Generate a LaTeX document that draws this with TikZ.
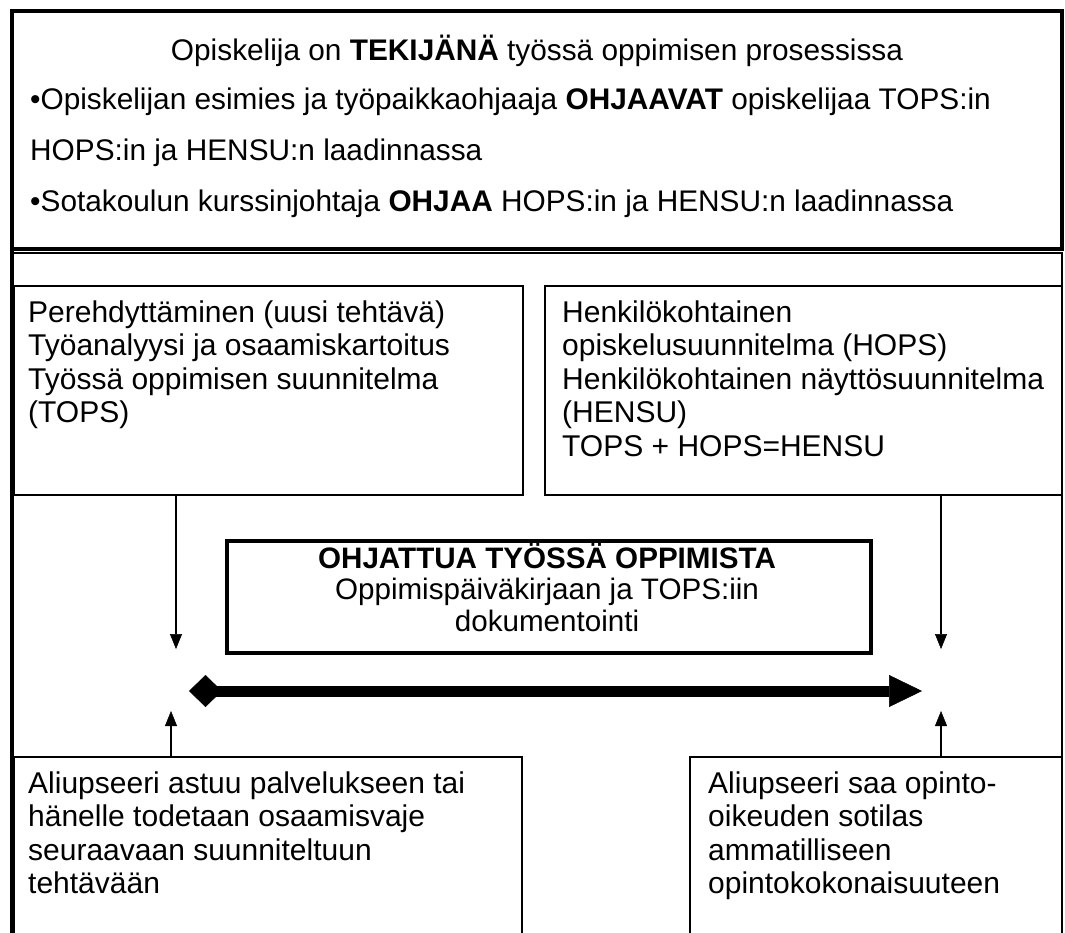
\documentclass[tikz,border=0pt]{standalone}
\usepackage{fontspec}
\setmainfont{Liberation Sans}
\usetikzlibrary{arrows.meta}
\begin{document}
\begin{tikzpicture}[x=1pt,y=-1pt,
  box/.style={draw=black, line width=1.5pt, anchor=north west, inner sep=0pt, outer sep=0pt},
  heavybox/.style={draw=black, line width=4pt, anchor=north west, inner sep=0pt, outer sep=0pt},
  txt/.style={anchor=base west, inner sep=0pt, align=left, font=\fontsize{30}{33.5}\selectfont},
  toptxt/.style={anchor=base west, inner sep=0pt, font=\fontsize{29.8}{33.5}\selectfont},
  midtxt/.style={anchor=base, inner sep=0pt, align=center, font=\fontsize{29.6}{31.8}\selectfont},
  thinarrow/.style={line width=1.4pt, -{Triangle[length=15pt,width=12pt,line width=0.5pt]}},
  bigarrow/.style={line width=11pt, {Diamond[length=33pt,width=32pt,line width=0.5pt]}-{Triangle[length=33pt,width=32pt,line width=0.5pt]}}
]
\useasboundingbox (0,0) rectangle (1065,932);
\fill[white] (0,0) rectangle (1065,932);
\clip (0,0) rectangle (1065,932);

% top box
\node[heavybox, minimum width=1050pt, minimum height=238pt] (top) at (12,11) {};
\node[toptxt, anchor=base] (t1) at (537,60) {Opiskelija on \textbf{TEKIJÄNÄ} työssä oppimisen prosessissa};
\node[toptxt] (t2) at (30,109) {•Opiskelijan esimies ja työpaikkaohjaaja \textbf{OHJAAVAT} opiskelijaa TOPS:in};
\node[toptxt] (t3) at (30,160) {HOPS:in ja HENSU:n laadinnassa};
\node[toptxt] (t4) at (30,211) {•Sotakoulun kurssinjohtaja \textbf{OHJAA} HOPS:in ja HENSU:n laadinnassa};

% lower frame
\coordinate (fl) at (12,249);
\coordinate (fb) at (12,940);
\coordinate (ft) at (12,253);
\coordinate (fr) at (1062,253);
\coordinate (frb) at (1062,940);
\draw[line width=4pt] (fl) -- (fb);
\draw[line width=1.5pt] (ft) -- (fr) -- (frb);

% middle-row boxes (text nodes anchored at the baseline of their last line)
\node[box, minimum width=509pt, minimum height=209pt] (perehd) at (14,286) {};
\node[txt] (perehdtxt) at (28,422.5) {Perehdyttäminen (uusi tehtävä)\\Työanalyysi ja osaamiskartoitus\\Työssä oppimisen suunnitelma\\(TOPS)};
\node[box, minimum width=517pt, minimum height=209pt] (hops) at (545,286) {};
\node[txt] (hopstxt) at (562,456) {Henkilökohtainen\\opiskelusuunnitelma (HOPS)\\Henkilökohtainen näyttösuunnitelma\\(HENSU)\\TOPS + HOPS=HENSU};

% central box
\node[heavybox, minimum width=644pt, minimum height=112pt] (ohj) at (227,541) {};
\node[midtxt] (ohjtxt) at (547,631.6) {\textbf{OHJATTUA TYÖSSÄ OPPIMISTA}\\Oppimispäiväkirjaan ja TOPS:iin\\dokumentointi};

% bottom boxes
\node[box, minimum width=508pt, minimum height=200pt] (aliu) at (14,757) {};
\node[txt] (aliutxt) at (28,893.5) {Aliupseeri astuu palvelukseen tai\\hänelle todetaan osaamisvaje\\seuraavaan suunniteltuun\\tehtävään};
\node[box, minimum width=372pt, minimum height=200pt] (saa) at (690,757) {};
\node[txt] (saatxt) at (708,893.5) {Aliupseeri saa opinto-\\oikeuden sotilas\\ammatilliseen\\opintokokonaisuuteen};

% arrows
\coordinate (dl) at (176,649);
\coordinate (dr) at (941,649);
\coordinate (ul) at (171,711);
\coordinate (ur) at (941,711);
\coordinate (al) at (189,691);
\coordinate (ar) at (922,691);
\draw[thinarrow] (perehd.south -| dl) -- (dl);
\draw[thinarrow] (hops.south -| dr) -- (dr);
\draw[thinarrow] (aliu.north -| ul) -- (ul);
\draw[thinarrow] (saa.north -| ur) -- (ur);
\draw[bigarrow] (al) -- (ar);
\end{tikzpicture}
\end{document}
